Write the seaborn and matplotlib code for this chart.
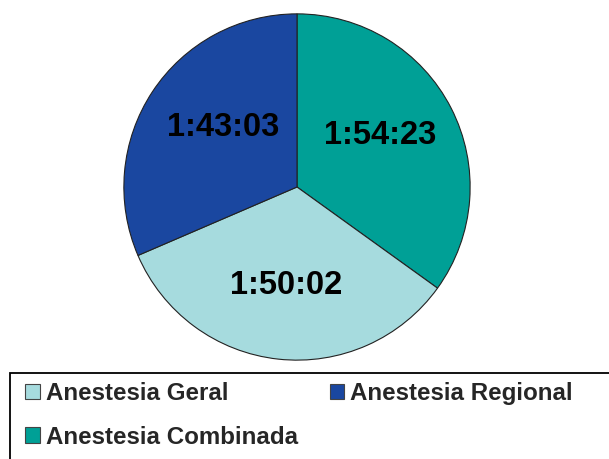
import matplotlib
matplotlib.use("Agg")
import matplotlib.pyplot as plt
import matplotlib.patches as mpatches
import seaborn as sns

# tempo medio de cirurgia por tipo de anestesia (ordem no grafico, sentido horario a partir do topo)
tipos = ["Anestesia Combinada", "Anestesia Geral", "Anestesia Regional"]
tempos = ["1:54:23", "1:50:02", "1:43:03"]
cores = ["#00A096", "#A6DBDE", "#1A47A0"]

# ordem da legenda (preenchida por colunas)
ordem_legenda = ["Anestesia Geral", "Anestesia Combinada", "Anestesia Regional"]


def em_segundos(t):
    h, m, s = t.split(":")
    return int(h) * 3600 + int(m) * 60 + int(s)


valores = [em_segundos(t) for t in tempos]

sns.set_style("white")
plt.rcParams["font.family"] = ["Liberation Sans", "DejaVu Sans"]

W, H = 609, 459
fig = plt.figure(figsize=(W / 100, H / 100), dpi=100)
fig.patch.set_facecolor("white")

cx, cy, r = 297, 187, 174
ax = fig.add_axes([(cx - r) / W, 1 - (cy + r) / H, 2 * r / W, 2 * r / H])

rotulos = iter(tempos)
wedges, _, autotexts = ax.pie(
    valores,
    colors=cores,
    startangle=90,
    counterclock=False,
    autopct=lambda p: next(rotulos),
    pctdistance=0.57,
    wedgeprops=dict(edgecolor="#222222", linewidth=0.8),
    textprops=dict(fontsize=23.5, fontweight="bold", color="black"),
)
# pequenos ajustes na posicao dos rotulos (em raios)
ajustes = [(-0.03, 0.04), (0.0, 0.0), (0.05, 0.03)]
for t, (dx, dy) in zip(autotexts, ajustes):
    x, y = t.get_position()
    t.set_position((x + dx, y + dy))

ax.set_xlim(-1.005, 1.005)
ax.set_ylim(-1.005, 1.005)
ax.set_aspect("equal")

# caixa da legenda (sai pela direita e por baixo)
caixa = mpatches.Rectangle((10 / W, -0.05), 1.0, (H - 373) / H + 0.05,
                           transform=fig.transFigure, facecolor="none",
                           edgecolor="black", linewidth=1.3)
fig.add_artist(caixa)

handles = [mpatches.Patch(facecolor=cores[tipos.index(n)], edgecolor="#444444",
                          linewidth=0.8) for n in ordem_legenda]
fig.legend(handles, ordem_legenda, loc="upper left",
           bbox_to_anchor=(25 / W, 1 - 382 / H), bbox_transform=fig.transFigure,
           ncol=2, frameon=False, borderpad=0, borderaxespad=0,
           handlelength=0.6, handleheight=0.6, handletextpad=0.25,
           columnspacing=1.33, labelspacing=0.85,
           prop=dict(size=17.4, weight="bold"))

fig.savefig("out.png", dpi=100)
